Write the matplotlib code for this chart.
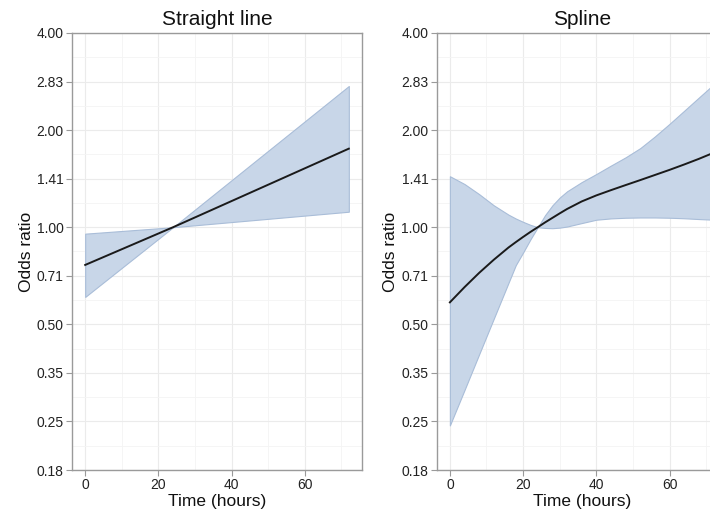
import numpy as np
import matplotlib
matplotlib.use("Agg")
import matplotlib.pyplot as plt
from matplotlib.ticker import FixedLocator, NullFormatter

plt.rcParams['font.family'] = ['Liberation Sans', 'DejaVu Sans']

# panneau gauche : droite (odds ratio relatif a 24 h)
lin_t = [0, 24, 72]
lin_or = [0.764, 1.0, 1.752]
lin_hi = [0.955, 1.0, 2.74]
lin_lo = [0.608, 1.0, 1.117]

# panneau droit : spline
spl_t = [0, 4, 8, 12, 16, 18, 20, 22, 24, 26, 28, 30, 32, 36, 40, 44, 48, 52, 56, 60, 64, 68, 72]
spl_or = [0.585, 0.652, 0.722, 0.793, 0.865, 0.899, 0.933, 0.967, 1.0, 1.035, 1.069, 1.104, 1.139,
          1.202, 1.255, 1.303, 1.351, 1.400, 1.452, 1.506, 1.565, 1.629, 1.701]
spl_hi = [1.439, 1.361, 1.266, 1.169, 1.094, 1.064, 1.039, 1.017, 1.0, 1.090, 1.169, 1.236, 1.292,
          1.380, 1.462, 1.553, 1.647, 1.759, 1.912, 2.092, 2.297, 2.523, 2.770]
spl_lo = [0.243, 0.313, 0.404, 0.521, 0.672, 0.763, 0.835, 0.917, 1.0, 0.995, 0.993, 0.997, 1.005,
          1.03, 1.055, 1.065, 1.07, 1.072, 1.072, 1.07, 1.066, 1.06, 1.055]

yticks = [0.18, 0.25, 0.35, 0.50, 0.71, 1.00, 1.41, 2.00, 2.83, 4.00]
xticks = [0, 20, 40, 60]

fig = plt.figure(figsize=(7.1, 5.11), dpi=100)
ax1 = fig.add_axes([72/710, 41/511, 290/710, 437/511])
ax2 = fig.add_axes([436.7/710, 41/511, 290/710, 437/511])

fill_col = '#c8d6e8'
edge_col = '#a9bdd8'

for ax, t, m, hi, lo, titre in [(ax1, lin_t, lin_or, lin_hi, lin_lo, 'Straight line'),
                                (ax2, spl_t, spl_or, spl_hi, spl_lo, 'Spline')]:
    ax.set_yscale('log', base=2)
    ax.set_ylim(2 ** -2.5, 4)
    ax.set_xlim(-3.6, 75.6)
    # grille majeure et mineure
    ylog = np.arange(-2.5, 2.01, 0.5)
    ax.yaxis.set_major_locator(FixedLocator(2 ** ylog))
    ax.yaxis.set_minor_locator(FixedLocator(2 ** (ylog[:-1] + 0.25)))
    ax.yaxis.set_minor_formatter(NullFormatter())
    ax.set_yticklabels(['%.2f' % v for v in yticks])
    ax.xaxis.set_major_locator(FixedLocator(xticks))
    ax.xaxis.set_minor_locator(FixedLocator([10, 30, 50, 70]))
    ax.grid(True, which='major', color='#ebebeb', lw=0.8)
    ax.grid(True, which='minor', color='#f4f4f4', lw=0.6)
    ax.set_axisbelow(True)

    ax.fill_between(t, lo, hi, facecolor=fill_col, edgecolor=edge_col, lw=0.8, zorder=2)
    ax.plot(t, m, color='#1a1a1a', lw=1.4, zorder=3)

    for s in ax.spines.values():
        s.set_color('#9a9a9a')
        s.set_linewidth(1.0)
    ax.tick_params(which='major', length=4, color='#9a9a9a', labelsize=10, labelcolor='#222222', pad=2)
    ax.tick_params(which='minor', length=0)
    ax.set_title(titre, fontsize=15, color='#111111', pad=6)
    ax.set_xlabel('Time (hours)', fontsize=12.5, color='#111111', labelpad=1)
    ax.set_ylabel('Odds ratio', fontsize=12.5, color='#111111', labelpad=2)

fig.savefig('out.png', dpi=100)
